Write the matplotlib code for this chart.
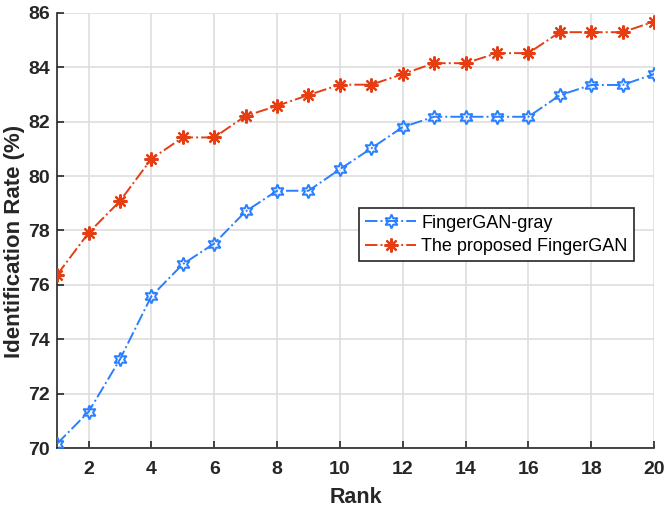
import matplotlib.pyplot as plt

plt.rcParams['font.family'] = ['Liberation Sans', 'DejaVu Sans']

rank = list(range(1, 21))
gray_rate = [70.16, 71.33, 73.26, 75.58, 76.76, 77.52, 78.70, 79.46, 79.46, 80.25,
             81.02, 81.80, 82.18, 82.18, 82.18, 82.18, 82.97, 83.35, 83.35, 83.75]
proposed_rate = [76.37, 77.91, 79.08, 80.63, 81.42, 81.42, 82.21, 82.58, 82.98, 83.36,
                 83.36, 83.75, 84.15, 84.15, 84.52, 84.52, 85.29, 85.29, 85.29, 85.68]
labels = ['FingerGAN-gray', 'The proposed FingerGAN']

fig = plt.figure(figsize=(6.64, 5.15), dpi=100)
ax = fig.add_axes([0.086, 0.130, 0.899, 0.845])

ax.plot(rank, gray_rate, linestyle='-.', color='#2a7fff', linewidth=1.4,
        marker=(6, 1, 0), markersize=10, markerfacecolor='none',
        markeredgewidth=1.4, label=labels[0], zorder=3)
ax.plot(rank, proposed_rate, linestyle='-.', color='#e63e12', linewidth=1.4,
        marker=(8, 2, 0), markersize=10, markeredgewidth=1.6,
        label=labels[1], zorder=3)

ax.set_xlim(1, 20)
ax.set_ylim(70, 86)
ax.set_xticks(range(2, 21, 2))
ax.set_yticks(range(70, 87, 2))
ax.grid(True, color='#dedede', linewidth=1.2)
ax.set_axisbelow(True)
for s in ['top', 'right']:
    ax.spines[s].set_visible(False)
for s in ['left', 'bottom']:
    ax.spines[s].set_color('#262626')
    ax.spines[s].set_linewidth(1.2)
ax.tick_params(direction='in', length=5, width=1.2, color='#262626',
               labelsize=14, labelcolor='#262626', pad=9)
ax.tick_params(axis='y', pad=5)
for lab in ax.get_xticklabels() + ax.get_yticklabels():
    lab.set_fontweight('bold')

ax.set_xlabel('Rank', fontsize=15.5, fontweight='bold', color='#262626', labelpad=7)
ax.set_ylabel('Identification Rate (%)', fontsize=16, fontweight='bold',
              color='#262626')
ax.yaxis.set_label_coords(-0.053, 0.475)

leg = ax.legend(loc='center left', bbox_to_anchor=(0.506, 0.49), fontsize=13,
                fancybox=False, framealpha=1, edgecolor='#262626',
                handlelength=2.8, borderpad=0.35, labelspacing=0.35,
                handletextpad=0.3, borderaxespad=0)
leg.get_frame().set_linewidth(1.2)

fig.savefig('out.png', dpi=100)
